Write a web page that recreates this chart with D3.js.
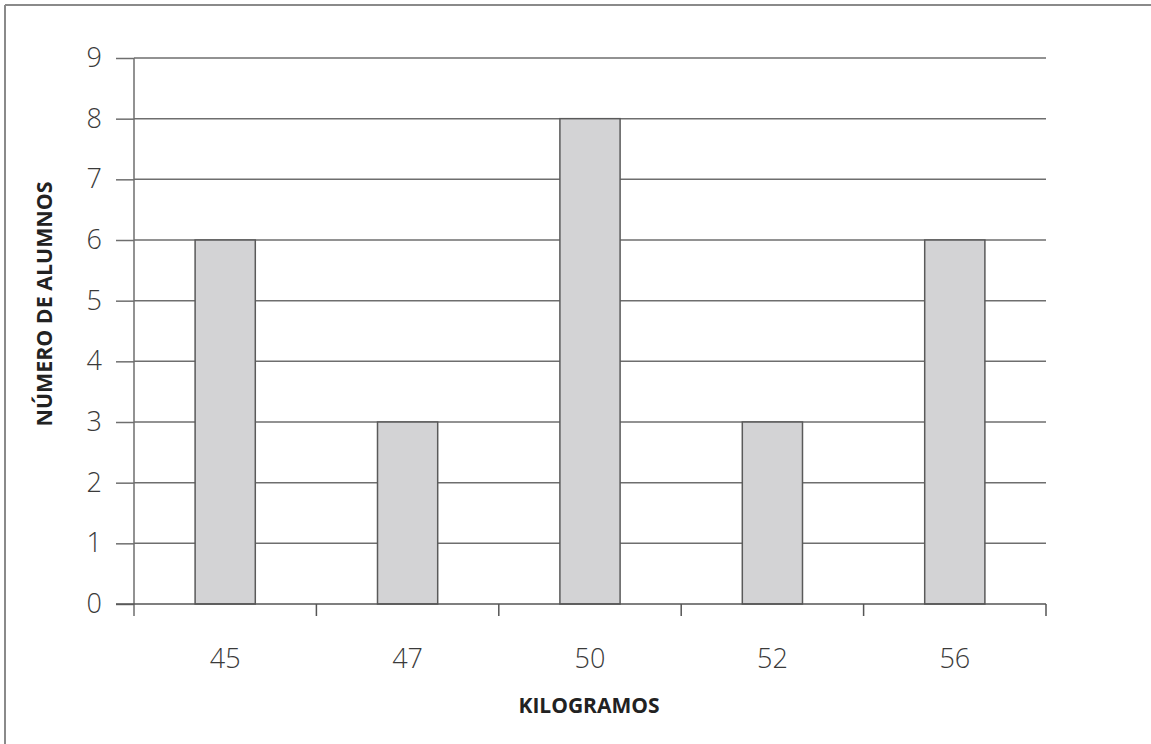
<!DOCTYPE html>
<html>
<head>
<meta charset="utf-8">
<script src="https://cdn.jsdelivr.net/npm/d3@7"></script>
<style>
  body { margin: 0; background: #fff; }
  text { font-family: "Open Sans", sans-serif; }
</style>
</head>
<body>
<svg id="chart" width="1151" height="744"></svg>
<script>
// data
const kilos = ["45", "47", "50", "52", "56"];
const alumnos = [6, 3, 8, 3, 6];
const yTicks = [0, 1, 2, 3, 4, 5, 6, 7, 8, 9];

const svg = d3.select("#chart");
const margin = {left: 134, right: 105, top: 58, bottom: 140};
const width = 1151, height = 744;

// outer frame (only top and left edges show)
svg.append("line").attr("x1", 5).attr("x2", width).attr("y1", 5).attr("y2", 5)
    .attr("stroke", "#8a8a8a").attr("stroke-width", 2);
svg.append("line").attr("x1", 5).attr("x2", 5).attr("y1", 5).attr("y2", height)
    .attr("stroke", "#8a8a8a").attr("stroke-width", 2);

const x = d3.scaleBand().domain(kilos)
    .range([margin.left, width - margin.right])
    .paddingInner(0.67).paddingOuter(0.335);
const y = d3.scaleLinear().domain([0, 9]).range([height - margin.bottom, margin.top]);

// gridlines
svg.append("g")
    .selectAll("line")
    .data(yTicks.slice(1))
    .join("line")
    .attr("x1", margin.left).attr("x2", width - margin.right)
    .attr("y1", d => y(d)).attr("y2", d => y(d))
    .attr("stroke", "#6e6e6e").attr("stroke-width", 1.5);

// bars
svg.append("g")
    .selectAll("rect")
    .data(alumnos)
    .join("rect")
    .attr("x", (d, i) => x(kilos[i]))
    .attr("y", d => y(d))
    .attr("width", x.bandwidth())
    .attr("height", d => y(0) - y(d))
    .attr("fill", "#d3d3d5")
    .attr("stroke", "#5a5a5a")
    .attr("stroke-width", 1.5);

// y axis
const yAxis = svg.append("g")
    .attr("transform", `translate(${margin.left},0)`)
    .call(d3.axisLeft(y).tickValues(yTicks).tickSize(18).tickPadding(14));
yAxis.select(".domain").attr("stroke", "#6e6e6e").attr("stroke-width", 1.5)
    .attr("d", `M0,${y(9)}V${y(0) + 12}`);
yAxis.selectAll(".tick line").attr("stroke", "#6e6e6e").attr("stroke-width", 1.5);
yAxis.selectAll(".tick text")
    .attr("font-size", 27).attr("fill", "#3a3a3a")
    .attr("font-family", "Open Sans").attr("font-weight", 300);

// x axis
const xEdges = d3.range(kilos.length + 1).map(i =>
    margin.left + i * x.step());
const xAxis = svg.append("g")
    .attr("transform", `translate(0,${y(0)})`);
xAxis.append("line")
    .attr("x1", margin.left - 18).attr("x2", width - margin.right)
    .attr("stroke", "#555").attr("stroke-width", 1.5);
xAxis.selectAll(".edge")
    .data(xEdges.slice(1))
    .join("line")
    .attr("class", "edge")
    .attr("x1", d => d).attr("x2", d => d)
    .attr("y1", 0).attr("y2", 12)
    .attr("stroke", "#555").attr("stroke-width", 1.5);
xAxis.selectAll("text")
    .data(kilos)
    .join("text")
    .attr("x", d => x(d) + x.bandwidth() / 2)
    .attr("y", 64)
    .attr("text-anchor", "middle")
    .attr("font-size", 27).attr("fill", "#3a3a3a").attr("font-weight", 300)
    .text(d => d);

// axis titles
svg.append("text")
    .attr("x", 589).attr("y", 713)
    .attr("text-anchor", "middle")
    .attr("font-size", 21).attr("font-weight", "bold").attr("fill", "#222")
    .text("KILOGRAMOS");
svg.append("text")
    .attr("transform", "translate(52,304) rotate(-90)")
    .attr("text-anchor", "middle")
    .attr("font-size", 21).attr("font-weight", "bold").attr("fill", "#222")
    .attr("textLength", 245).attr("lengthAdjust", "spacingAndGlyphs")
    .text("NÚMERO DE ALUMNOS");
</script>
</body>
</html>
